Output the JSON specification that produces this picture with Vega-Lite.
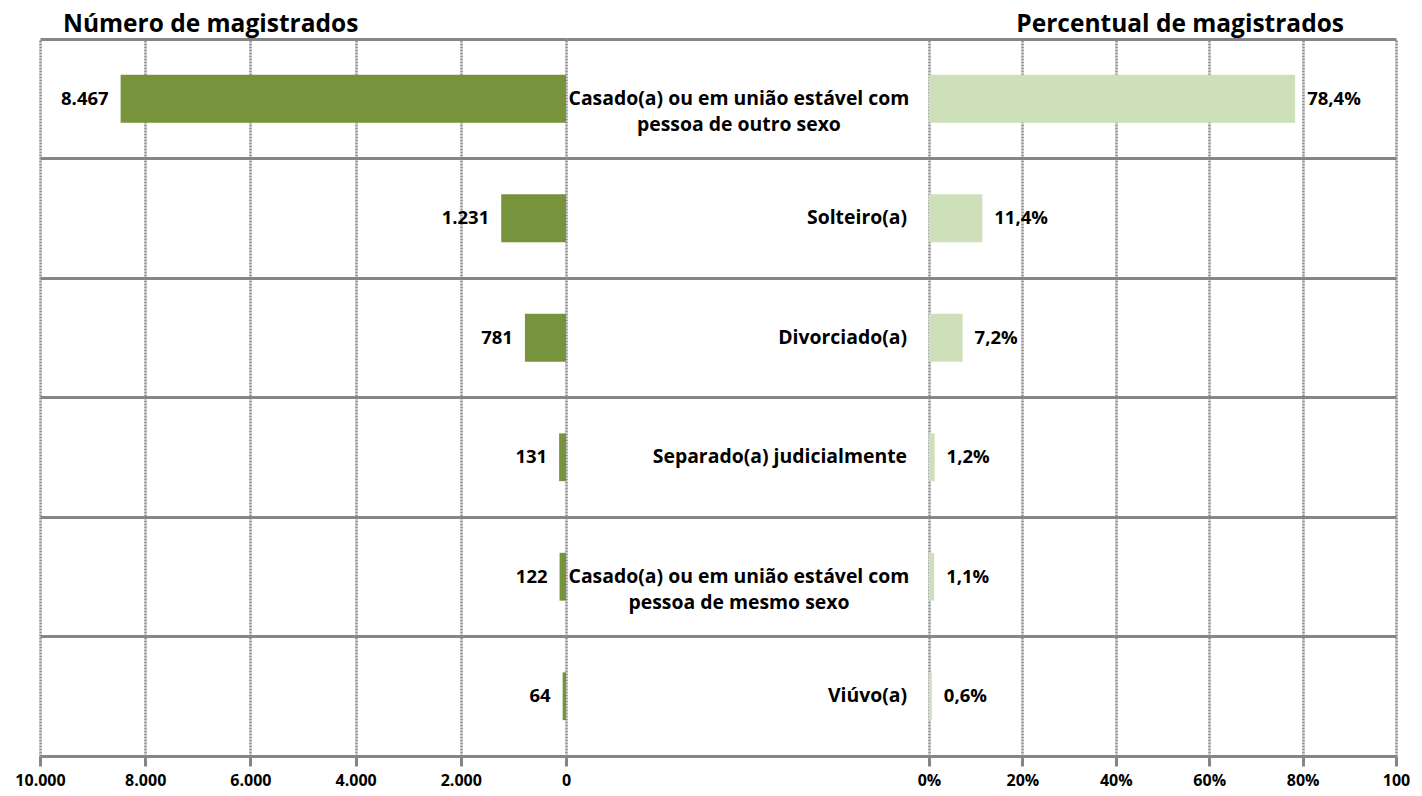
{
  "$schema": "https://vega.github.io/schema/vega-lite/v6.json",
  "autosize": {"type": "pad"},
  "bounds": "flush",
  "padding": {"left": 14, "top": 11, "right": 0, "bottom": 0},
  "spacing": 0,
  "config": {
    "locale": {"number": {"decimal": ",", "thousands": ".", "grouping": [3], "currency": ["R$", ""]}},
    "view": {"stroke": null},
    "font": "Open Sans",
    "text": {"font": "Open Sans", "fontWeight": "bold", "fontSize": 16, "color": "black"},
    "axis": {"labelFont": "Open Sans", "labelFontWeight": "bold", "labelFontSize": 16, "labelColor": "black"}
  },
  "datasets": {
    "d": [
      {"estado": "Casado(a) ou em união estável com\npessoa de outro sexo", "numero": 8467, "percentual": 0.784},
      {"estado": "Solteiro(a)", "numero": 1231, "percentual": 0.114},
      {"estado": "Divorciado(a)", "numero": 781, "percentual": 0.072},
      {"estado": "Separado(a) judicialmente", "numero": 131, "percentual": 0.012},
      {"estado": "Casado(a) ou em união estável com\npessoa de mesmo sexo", "numero": 122, "percentual": 0.011},
      {"estado": "Viúvo(a)", "numero": 64, "percentual": 0.006}
    ]
  },
  "hconcat": [
    {
      "width": 526,
      "height": 717,
      "data": {"name": "d"},
      "title": {"text": "Número de magistrados", "anchor": "start", "frame": "group", "dx": 23, "fontSize": 24.5, "fontWeight": "bold", "font": "Open Sans", "color": "black", "offset": 2},
      "encoding": {
        "y": {
          "field": "estado", "type": "nominal", "sort": null,
          "scale": {"paddingInner": 0, "paddingOuter": 0},
          "axis": {"title": null, "labels": false, "ticks": false, "domain": false, "grid": true, "bandPosition": 0, "gridColor": "#868686", "gridWidth": 3, "gridOpacity": 1}
        }
      },
      "layer": [
        {
          "mark": {"type": "bar", "color": "#77933C", "height": {"band": 0.4}},
          "encoding": {
            "x": {
              "field": "numero", "type": "quantitative",
              "scale": {"domain": [0, 10000], "reverse": true, "nice": false},
              "axis": {"title": null, "values": [0, 2000, 4000, 6000, 8000, 10000], "format": ",d",
                "grid": true, "gridDash": [2, 1], "gridColor": "#8c8c8c", "gridWidth": 2.5, "gridOpacity": 1,
                "domainColor": "#868686", "domainWidth": 3, "tickColor": "#868686", "tickWidth": 3, "tickSize": 10,
                "labelPadding": 6, "labelFlush": false, "labelOverlap": false}
            }
          }
        },
        {
          "mark": {"type": "text", "align": "right", "baseline": "middle", "dx": -12, "fontSize": 18.5},
          "encoding": {
            "x": {"field": "numero", "type": "quantitative"},
            "text": {"field": "numero", "type": "quantitative", "format": ",d"}
          }
        }
      ]
    },
    {
      "width": 830,
      "height": 717,
      "data": {"name": "d"},
      "title": {"text": "Percentual de magistrados", "anchor": "end", "frame": "group", "dx": -52, "fontSize": 24.5, "fontWeight": "bold", "font": "Open Sans", "color": "black", "offset": 2},
      "encoding": {
        "y": {
          "field": "estado", "type": "nominal", "sort": null,
          "scale": {"paddingInner": 0, "paddingOuter": 0},
          "axis": {"title": null, "labels": false, "ticks": false, "domain": false,
            "grid": true, "bandPosition": 0, "gridColor": "#868686", "gridWidth": 3, "gridOpacity": 1}
        }
      },
      "layer": [
        {
          "mark": {"type": "bar", "color": "#CDE0BA", "height": {"band": 0.4}},
          "encoding": {
            "x": {
              "field": "percentual", "type": "quantitative",
              "scale": {"domain": [-0.7773, 1], "nice": false, "zero": false},
              "axis": {"title": null, "values": [0, 0.2, 0.4, 0.6, 0.8, 1], "format": ".0%",
                "labelExpr": "datum.value == 1 ? '100' : datum.label",
                "grid": true, "gridDash": [2, 1], "gridColor": "#8c8c8c", "gridWidth": 2.5, "gridOpacity": 1,
                "domainColor": "#868686", "domainWidth": 3, "tickColor": "#868686", "tickWidth": 3, "tickSize": 10,
                "labelPadding": 6, "labelFlush": false, "labelOverlap": false}
            }
          }
        },
        {
          "mark": {"type": "rule", "color": "#868686", "strokeWidth": 3},
          "encoding": {"x": {"datum": 0, "type": "quantitative"}}
        },
        {
          "mark": {"type": "text", "align": "left", "baseline": "middle", "dx": 12, "fontSize": 18.5},
          "encoding": {
            "x": {"field": "percentual", "type": "quantitative"},
            "text": {"field": "percentual", "type": "quantitative", "format": ".1%"}
          }
        },
        {
          "transform": [{"filter": "indexof(datum.estado, '\\n') < 0"}],
          "mark": {"type": "text", "align": "right", "baseline": "middle", "fontSize": 19.4},
          "encoding": {
            "x": {"datum": -0.047, "type": "quantitative"},
            "text": {"field": "estado", "type": "nominal"}
          }
        },
        {
          "transform": [{"filter": "indexof(datum.estado, '\\n') >= 0"}],
          "mark": {"type": "text", "align": "center", "baseline": "middle", "lineBreak": "\n", "lineHeight": 26, "fontSize": 19.4},
          "encoding": {
            "x": {"datum": -0.407, "type": "quantitative"},
            "text": {"field": "estado", "type": "nominal"}
          }
        }
      ]
    }
  ]
}
